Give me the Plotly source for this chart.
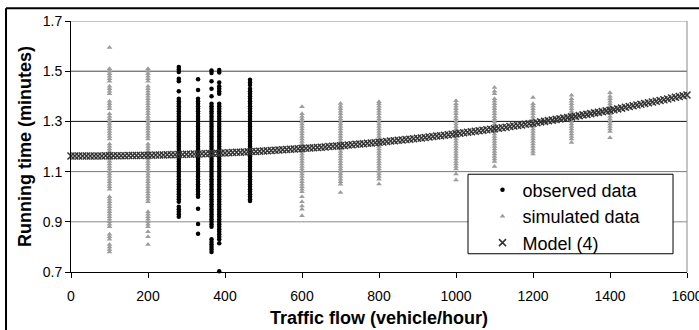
import plotly.graph_objects as go

# ---------------- data ----------------
# observed data (black dots): running time (minutes) per traffic flow
obs_280 = [1.517, 1.507, 1.497, 1.47, 1.46, 1.42, 1.39, 1.38, 1.37, 1.36, 1.35, 1.34,
           1.33, 1.32, 1.31, 1.30, 1.29, 1.28, 1.27, 1.26, 1.25, 1.24, 1.23, 1.22, 1.21,
           1.20, 1.19, 1.18, 1.17, 1.16, 1.15, 1.14, 1.13, 1.12, 1.11, 1.10, 1.09, 1.08,
           1.07, 1.06, 1.05, 1.04, 1.03, 1.02, 1.01, 1.00, 0.99, 0.98, 0.96, 0.95, 0.94,
           0.93, 0.92]
obs_330 = [1.468, 1.425, 1.39, 1.38, 1.37, 1.36, 1.35, 1.34,
           1.33, 1.32, 1.31, 1.30, 1.29, 1.28, 1.27, 1.26, 1.25, 1.24, 1.23, 1.22, 1.21,
           1.20, 1.19, 1.18, 1.17, 1.16, 1.15, 1.14, 1.13, 1.12, 1.11, 1.10, 1.09, 1.08,
           1.07, 1.06, 1.05, 1.04, 1.03, 1.02, 1.01, 1.00, 0.952, 0.891, 0.852]
obs_365 = [1.503, 1.493, 1.46, 1.43, 1.40, 1.37, 1.36, 1.35, 1.34,
           1.33, 1.32, 1.31, 1.30, 1.29, 1.28, 1.27, 1.26, 1.25, 1.24, 1.23, 1.22, 1.21,
           1.20, 1.19, 1.18, 1.17, 1.16, 1.15, 1.14, 1.13, 1.12, 1.11, 1.10, 1.09, 1.08,
           1.07, 1.06, 1.05, 1.04, 1.03, 1.02, 1.01, 1.00, 0.99, 0.98, 0.97, 0.96, 0.95,
           0.94, 0.93, 0.92, 0.91, 0.90, 0.89, 0.88, 0.83, 0.82, 0.81, 0.80, 0.79, 0.78]
obs_385 = [1.505, 1.495, 1.455, 1.44, 1.43, 1.42, 1.41, 1.37, 1.36, 1.35, 1.34,
           1.33, 1.32, 1.31, 1.30, 1.29, 1.28, 1.27, 1.26, 1.25, 1.24, 1.23, 1.22, 1.21,
           1.20, 1.19, 1.18, 1.17, 1.16, 1.15, 1.14, 1.13, 1.12, 1.11, 1.10, 1.09, 1.08,
           1.07, 1.06, 1.05, 1.04, 1.03, 1.02, 1.01, 1.00, 0.99, 0.98, 0.97, 0.96, 0.95,
           0.94, 0.93, 0.92, 0.91, 0.90, 0.89, 0.88, 0.87, 0.86, 0.85, 0.84, 0.83, 0.815,
           0.703]
obs_465 = [1.466, 1.455, 1.445, 1.43, 1.42, 1.41,
           1.40, 1.39, 1.38, 1.37, 1.36, 1.35, 1.34,
           1.33, 1.32, 1.31, 1.30, 1.29, 1.28, 1.27, 1.26, 1.25, 1.24, 1.23, 1.22, 1.21,
           1.20, 1.19, 1.18, 1.17, 1.16, 1.15, 1.14, 1.13, 1.12, 1.11, 1.10, 1.09, 1.08,
           1.07, 1.06, 1.05, 1.04, 1.03, 1.02, 1.01, 1.00, 0.99, 0.983]
OBS_FLOWS = [280, 330, 365, 385, 465]

# simulated data (grey triangles)
sim_100 = [1.594, 1.51, 1.50, 1.49, 1.48, 1.47, 1.46, 1.44, 1.43, 1.42, 1.41,
           1.38, 1.37, 1.36, 1.35, 1.33, 1.32, 1.31, 1.30, 1.29, 1.28, 1.27, 1.26,
           1.25, 1.24, 1.23, 1.21, 1.20, 1.19, 1.18, 1.17, 1.16, 1.15, 1.14, 1.13,
           1.12, 1.11, 1.10, 1.09, 1.08, 1.07, 1.06, 1.05, 1.04, 1.03, 1.00, 0.99,
           0.98, 0.97, 0.96, 0.95, 0.94, 0.93, 0.92, 0.91, 0.90, 0.89, 0.88, 0.85,
           0.84, 0.83, 0.81, 0.80, 0.79, 0.78]
sim_200 = [1.51, 1.50, 1.49, 1.48, 1.47, 1.46, 1.44, 1.43, 1.42, 1.41, 1.40, 1.39,
           1.38, 1.37, 1.36, 1.35, 1.34, 1.33, 1.32, 1.31, 1.30, 1.29, 1.28, 1.27,
           1.26, 1.25, 1.24, 1.23, 1.21, 1.20, 1.19, 1.18, 1.17, 1.16, 1.15, 1.14,
           1.13, 1.12, 1.11, 1.10, 1.09, 1.08, 1.07, 1.06, 1.05, 1.04, 1.03, 1.02,
           1.01, 1.00, 0.99, 0.98, 0.94, 0.93, 0.92, 0.91, 0.90, 0.89, 0.88, 0.86,
           0.84, 0.81]
sim_600 = [1.358, 1.33, 1.32, 1.31, 1.30, 1.29, 1.28, 1.27, 1.26, 1.25, 1.24, 1.23,
           1.22, 1.21, 1.20, 1.19, 1.18, 1.17, 1.16, 1.15, 1.14, 1.13, 1.12, 1.11,
           1.10, 1.09, 1.08, 1.07, 1.06, 1.05, 1.04, 1.03, 1.02, 1.00, 0.98, 0.963,
           0.95, 0.924]
sim_700 = [1.371, 1.36, 1.35, 1.34, 1.33, 1.32, 1.31, 1.30, 1.29, 1.28, 1.27, 1.26,
           1.25, 1.24, 1.23, 1.22, 1.21, 1.20, 1.19, 1.18, 1.17, 1.16, 1.15, 1.14,
           1.13, 1.12, 1.11, 1.10, 1.09, 1.08, 1.07, 1.06, 1.05, 1.017]
sim_800 = [1.378, 1.37, 1.36, 1.35, 1.34, 1.33, 1.32, 1.31, 1.30, 1.29, 1.28, 1.27,
           1.26, 1.25, 1.24, 1.23, 1.22, 1.21, 1.20, 1.19, 1.18, 1.17, 1.16, 1.15,
           1.14, 1.13, 1.12, 1.11, 1.10, 1.09, 1.08, 1.07, 1.051]
sim_1000 = [1.382, 1.37, 1.36, 1.35, 1.34, 1.33, 1.32, 1.31, 1.30, 1.29, 1.28,
            1.27, 1.26, 1.25, 1.24, 1.23, 1.22, 1.21, 1.20, 1.19, 1.18, 1.17, 1.16,
            1.15, 1.14, 1.13, 1.12, 1.11, 1.09, 1.067]
sim_1100 = [1.435, 1.42, 1.41, 1.39, 1.38, 1.37, 1.36, 1.35, 1.34, 1.33, 1.32,
            1.31, 1.30, 1.29, 1.28, 1.27, 1.26, 1.25, 1.24, 1.23, 1.22, 1.21, 1.20,
            1.19, 1.18, 1.17, 1.16, 1.15, 1.14, 1.12]
sim_1200 = [1.395, 1.37, 1.36, 1.35, 1.34, 1.33, 1.32, 1.31, 1.30, 1.29, 1.28,
            1.27, 1.26, 1.25, 1.24, 1.23, 1.22, 1.21, 1.20, 1.19, 1.18, 1.17]
sim_1300 = [1.404, 1.39, 1.38, 1.37, 1.36, 1.35, 1.34, 1.33, 1.32, 1.31, 1.30,
            1.29, 1.28, 1.27, 1.26, 1.25, 1.24, 1.23, 1.216]
sim_1400 = [1.414, 1.40, 1.39, 1.38, 1.37, 1.36, 1.35, 1.34, 1.33, 1.32, 1.31,
            1.30, 1.29, 1.28, 1.27, 1.26, 1.235]
SIM_FLOWS = [100, 200, 600, 700, 800, 1000, 1100, 1200, 1300, 1400]

# Model (4): fitted running time along the flow axis (every 10 veh/h)
MODEL_FLOW = list(range(0, 1601, 10))
MODEL_TIME = [
    1.162, 1.162, 1.162, 1.162, 1.162, 1.162, 1.162, 1.162, 1.162, 1.163,
    1.163, 1.163, 1.163, 1.163, 1.163, 1.164, 1.164, 1.164, 1.164, 1.165,
    1.165, 1.165, 1.166, 1.166, 1.166, 1.167, 1.167, 1.167, 1.168, 1.168,
    1.169, 1.169, 1.170, 1.170, 1.171, 1.171, 1.172, 1.172, 1.173, 1.174,
    1.174, 1.175, 1.176, 1.177, 1.177, 1.178, 1.179, 1.180, 1.180, 1.181,
    1.182, 1.183, 1.184, 1.185, 1.186, 1.187, 1.188, 1.189, 1.190, 1.191,
    1.192, 1.193, 1.194, 1.195, 1.196, 1.197, 1.198, 1.200, 1.201, 1.202,
    1.203, 1.204, 1.206, 1.207, 1.209, 1.210, 1.211, 1.213, 1.214, 1.215,
    1.217, 1.218, 1.220, 1.222, 1.223, 1.225, 1.226, 1.228, 1.229, 1.231,
    1.233, 1.234, 1.236, 1.238, 1.240, 1.242, 1.243, 1.245, 1.247, 1.249,
    1.251, 1.253, 1.255, 1.257, 1.259, 1.261, 1.263, 1.265, 1.267, 1.269,
    1.271, 1.273, 1.275, 1.277, 1.280, 1.282, 1.284, 1.286, 1.289, 1.291,
    1.293, 1.295, 1.298, 1.300, 1.303, 1.305, 1.308, 1.310, 1.313, 1.315,
    1.318, 1.320, 1.323, 1.326, 1.328, 1.331, 1.334, 1.336, 1.339, 1.342,
    1.344, 1.347, 1.350, 1.353, 1.356, 1.359, 1.362, 1.365, 1.368, 1.371,
    1.374, 1.377, 1.380, 1.383, 1.386, 1.389, 1.393, 1.396, 1.399, 1.402,
    1.405]

X_TICKS = [0, 200, 400, 600, 800, 1000, 1200, 1400, 1600]
Y_TICKS = [0.7, 0.9, 1.1, 1.3, 1.5, 1.7]
Y_TICK_LABELS = ["0.7", "0.9", "1.1", "1.3", "1.5", "1.7"]
GRID_VALUES = [0.9, 1.1, 1.3, 1.5, 1.7]

# ---------------- build flat arrays ----------------
obs_cols = [obs_280, obs_330, obs_365, obs_385, obs_465]
obs_x = [f for f, col in zip(OBS_FLOWS, obs_cols) for _ in col]
obs_y = [v for col in obs_cols for v in col]

sim_cols = [sim_100, sim_200, sim_600, sim_700, sim_800, sim_1000,
            sim_1100, sim_1200, sim_1300, sim_1400]
sim_x = [f for f, col in zip(SIM_FLOWS, sim_cols) for _ in col]
sim_y = [v for col in sim_cols for v in col]

FONT = "Arial, 'Liberation Sans', Helvetica, sans-serif"

fig = go.Figure()
fig.add_trace(go.Scatter(
    x=obs_x, y=obs_y, mode="markers", name="observed data", cliponaxis=False,
    marker=dict(symbol="circle", size=4.5, color="black", line=dict(width=0))))
fig.add_trace(go.Scatter(
    x=sim_x, y=sim_y, mode="markers", name="simulated data", cliponaxis=False,
    marker=dict(symbol="triangle-up", size=5, color="#9c9c9c", line=dict(width=0))))
fig.add_trace(go.Scatter(
    x=MODEL_FLOW, y=MODEL_TIME, mode="markers", name="Model (4)", cliponaxis=False,
    marker=dict(symbol="x-thin-open", size=7, color="#333333",
                line=dict(width=1.5, color="#333333"))))

grid_colors = ["#8a8a8a", "#7a7a7a", "#111111", "#444444", "#8a8a8a"]
shapes = []
for gv, gc in zip(GRID_VALUES, grid_colors):
    shapes.append(dict(type="line", xref="paper", yref="y", x0=0, x1=1, y0=gv, y1=gv,
                       line=dict(color=gc, width=1), layer="below"))
# right border of plot area (grey)
shapes.append(dict(type="line", xref="paper", yref="paper", x0=1, x1=1, y0=0, y1=1,
                   line=dict(color="#8a8a8a", width=1), layer="below"))
# legend frame
shapes.append(dict(type="rect", xref="paper", yref="paper",
                   x0=0.6445, x1=0.9773, y0=0.0727, y1=0.3895,
                   line=dict(color="black", width=1), fillcolor="white", layer="above"))
# outer chart frame (left and top edges visible)
shapes.append(dict(type="line", xref="paper", yref="paper", x0=-0.1055, x1=-0.1055,
                   y0=-0.3, y1=1.0505, line=dict(color="black", width=2)))
shapes.append(dict(type="line", xref="paper", yref="paper", x0=-0.1055, x1=1.1,
                   y0=1.0505, y1=1.0505, line=dict(color="black", width=2)))

fig.update_layout(
    width=699, height=330,
    margin=dict(l=71, r=12, t=21, b=58, autoexpand=False),
    paper_bgcolor="white", plot_bgcolor="white",
    font=dict(family=FONT, size=14, color="black"),
    showlegend=True,
    legend=dict(x=0.668, y=0.40, xanchor="left", yanchor="top",
                bgcolor="rgba(0,0,0,0)", borderwidth=0,
                font=dict(family=FONT, size=18, color="black"),
                itemsizing="trace"),
    shapes=shapes,
    xaxis=dict(range=[0, 1600], tickvals=X_TICKS, ticks="outside", ticklen=5,
               tickcolor="black", showline=True, linecolor="black", linewidth=1,
               showgrid=False, zeroline=False, automargin=False,
               ticklabeloverflow="allow", ticklabelstandoff=6,
               tickfont=dict(family=FONT, size=14, color="black"),
               title=dict(text="<b>Traffic flow (vehicle/hour)</b>", standoff=8,
                          font=dict(family=FONT, size=18, color="black"))),
    yaxis=dict(range=[0.7, 1.7], tickvals=Y_TICKS, ticktext=Y_TICK_LABELS,
               ticks="outside", ticklen=5, tickcolor="black",
               showline=True, linecolor="black", linewidth=1,
               showgrid=False, zeroline=False, automargin=False,
               tickfont=dict(family=FONT, size=14, color="black"),
               title=dict(text="<b>Running time (minutes)</b>", standoff=6,
                          font=dict(family=FONT, size=18, color="black"))),
)

fig.write_html("out.html",
               config={"displayModeBar": False},
               post_script="document.body.style.margin='0';"
                           "document.body.style.overflow='hidden';")
